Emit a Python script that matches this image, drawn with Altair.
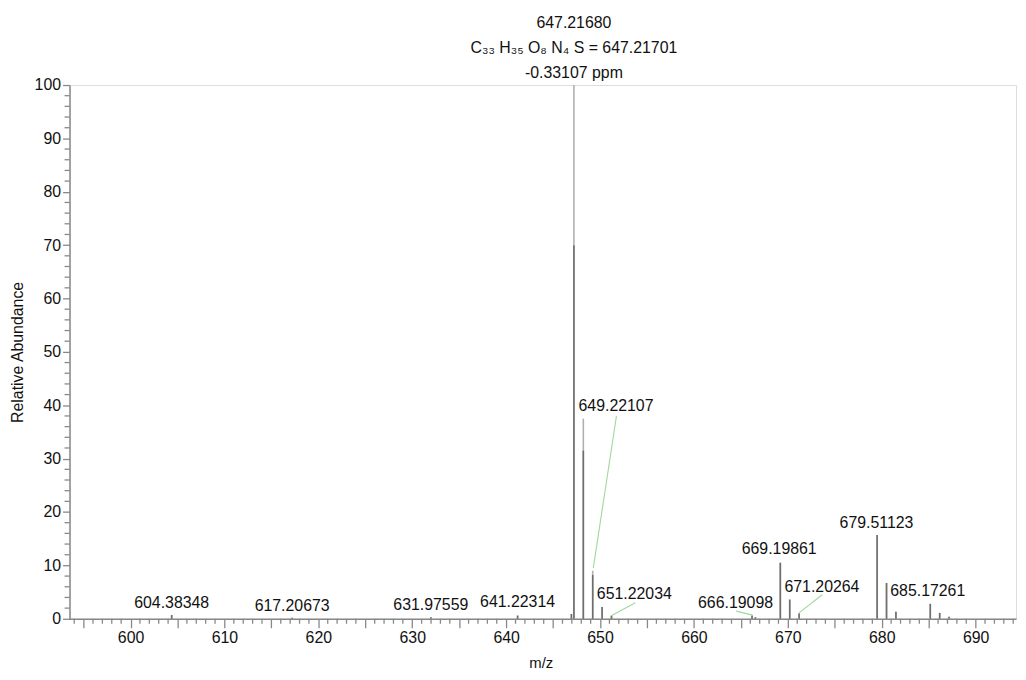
import altair as alt
import pandas as pd

# ---- data ----
peak_mz = [604.38, 617.21, 631.98, 641.22, 646.95, 647.2168, 648.22, 649.22, 650.22, 651.22,
           666.19, 666.55, 669.20, 670.20, 671.20, 679.51, 680.51, 681.51, 685.17, 686.17, 687.17]
peak_int = [0.7, 0.2, 0.3, 0.6, 0.9, 100.0, 37.5, 9.0, 2.2, 0.6,
            0.6, 0.3, 10.5, 3.6, 1.0, 15.7, 6.7, 1.3, 2.8, 1.1, 0.4]
core_int = [0.7, 0.2, 0.3, 0.6, 0.9, 70.0, 31.5, 8.2, 2.2, 0.6,
            0.6, 0.3, 10.5, 3.6, 1.0, 15.7, 6.7, 1.3, 2.8, 1.1, 0.4]

label_text = ["604.38348", "617.20673", "631.97559", "641.22314", "649.22107", "651.22034",
              "666.19098", "669.19861", "671.20264", "679.51123", "685.17261",
              "647.21680", "C\u2083\u2083 H\u2083\u2085 O\u2088 N\u2084 S = 647.21701", "-0.33107 ppm"]
label_mz = [604.38, 617.21, 631.98, 641.22, 651.70, 653.65,
            664.43, 669.08, 673.63, 679.44, 684.90,
            647.2168, 647.2168, 647.2168]
label_y = [2.9, 2.3, 2.5, 3.2, 39.8, 4.6,
           3.0, 13.0, 5.9, 18.0, 5.2,
           111.6, 106.9, 102.3]

lead_mz1 = [651.75, 653.76, 664.50, 673.66]
lead_y1 = [38.0, 3.0, 1.43, 4.5]
lead_mz2 = [649.28, 651.20, 666.25, 671.20]
lead_y2 = [9.5, 0.56, 0.69, 1.1]

x_major = list(range(595, 695, 5))
x_minor = [v for v in range(594, 695) if v % 5 != 0]
y_major = list(range(0, 101, 10))
y_minor = [v for v in range(0, 101, 2) if v % 10 != 0]

X0, X1 = 593.5, 694.3
W, H = 954, 538
peaks = pd.DataFrame({"mz": peak_mz, "int": peak_int, "core": core_int})
labels = pd.DataFrame({"mz": label_mz, "y": label_y, "text": label_text})
leads = pd.DataFrame({"x1": lead_mz1, "y1": lead_y1, "x2": lead_mz2, "y2": lead_y2})

# minor tick decorations (tick length in px converted to data units)
xt = pd.DataFrame({"v": x_minor, "a": 0.0, "b": -5 * 100 / H})
yt = pd.DataFrame({"v": y_minor, "a": X0, "b": X0 - 5 * (X1 - X0) / W})

FONT = "Liberation Sans"
AX = "#888888"
xscale = alt.Scale(domain=[X0, X1], nice=False, zero=False)
yscale = alt.Scale(domain=[0, 100], nice=False)

x_axis_main = alt.Axis(values=x_major, labelExpr="datum.value % 10 == 0 ? datum.label : ''",
                       tickSize=9, tickColor=AX, tickWidth=1.3, domainColor=AX, domainWidth=1.5,
                       grid=False, labelFont=FONT, labelFontSize=16, labelColor="#111",
                       labelPadding=2, title="m/z", titleFont=FONT, titleFontSize=15,
                       titleFontWeight="normal", titleColor="#111", titlePadding=10,
                       titleX=(545 - 70), orient="bottom", labelFlush=False, labelOverlap=False)
y_axis_main = alt.Axis(values=y_major, tickSize=7, tickColor=AX, tickWidth=1.3, domainColor=AX,
                       domainWidth=1.5, grid=False, labelFont=FONT, labelFontSize=16,
                       labelColor="#111", labelPadding=2, title="Relative Abundance",
                       titleFont=FONT, titleFontSize=16, titleFontWeight="normal",
                       titleColor="#111", titlePadding=9, orient="left", labelFlush=False,
                       labelOverlap=False)

light = alt.Chart(peaks).mark_rule(color="#b0b0b0", strokeWidth=1.6).encode(
    x=alt.X("mz:Q", scale=xscale, axis=x_axis_main),
    y=alt.Y("int:Q", scale=yscale, axis=y_axis_main),
    y2=alt.datum(0),
)
dark = alt.Chart(peaks).mark_rule(color="#6e6e6e", strokeWidth=1.6).encode(
    x="mz:Q", y="core:Q", y2=alt.datum(0),
)

minor_x = alt.Chart(xt).mark_rule(color=AX, strokeWidth=1.3).encode(
    x="v:Q", y="a:Q", y2="b:Q",
)
minor_y = alt.Chart(yt).mark_rule(color=AX, strokeWidth=1.3).encode(
    y="v:Q", x="a:Q", x2="b:Q",
)

leaders = alt.Chart(leads).mark_rule(color="#9fd89f", strokeWidth=1.1).encode(
    x="x1:Q", x2="x2:Q", y="y1:Q", y2="y2:Q",
)

texts = alt.Chart(labels).mark_text(font=FONT, fontSize=16, color="#111", baseline="middle",
                                    align="center").encode(
    x="mz:Q", y="y:Q", text="text:N",
)

chart = alt.layer(light, dark, minor_x, minor_y, leaders, texts).properties(
    width=W, height=H,
    autosize=alt.AutoSizeParams(type="none"),
    padding={"left": 62, "top": 75, "right": 2, "bottom": 50},
).configure_view(stroke=None).configure(background="white")

chart.save("out.html", embed_options={"renderer": "svg", "actions": False})
